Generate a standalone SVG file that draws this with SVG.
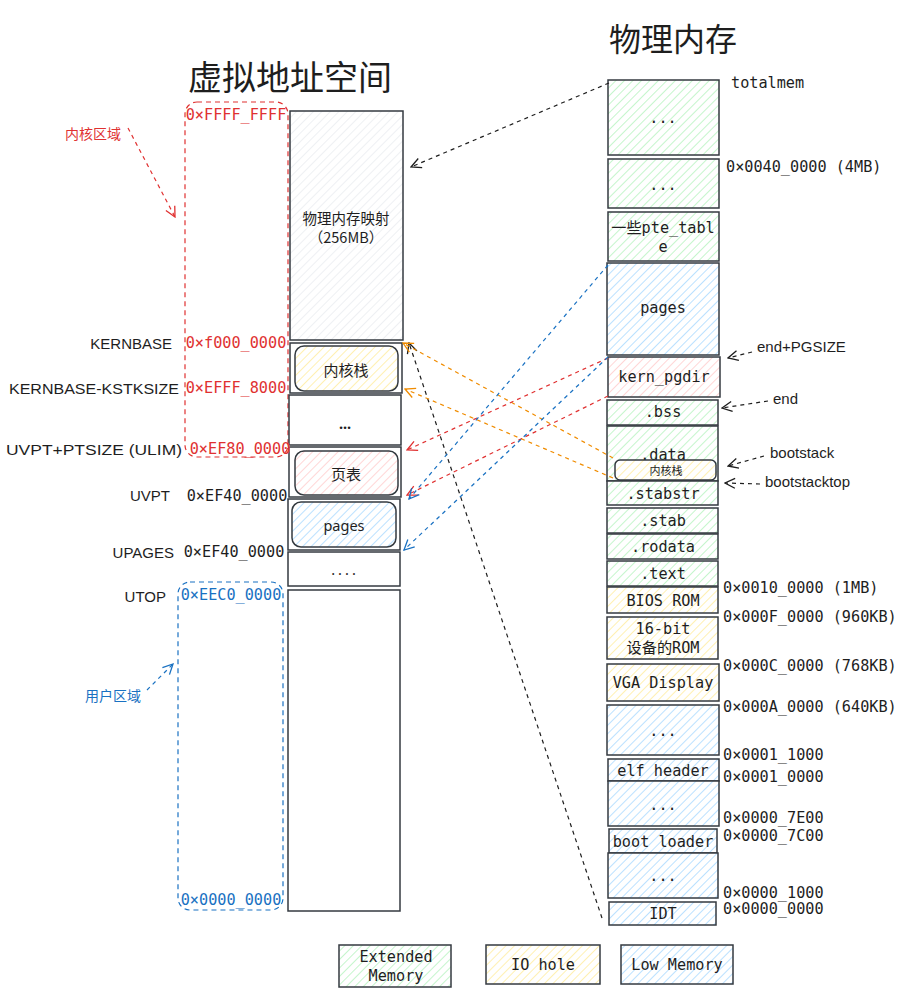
<svg xmlns="http://www.w3.org/2000/svg" width="913" height="1002" viewBox="0 0 913 1002">
<style>
.box{stroke:#343a40;stroke-width:1.5}
.inner{stroke:#343a40;stroke-width:1.5}
.mono{font-family:"DejaVu Sans Mono","Liberation Mono","Noto Sans CJK SC",monospace;font-size:15.2px;fill:#1e1e1e}
.sans{font-family:"Noto Sans","Noto Sans CJK SC",sans-serif;font-size:14.5px;fill:#1e1e1e}
.cjk{font-family:"Noto Sans CJK SC",sans-serif;fill:#1e1e1e}
.hand{font-family:"Liberation Sans","Noto Sans",sans-serif;font-size:15px;fill:#1e1e1e}
.c{text-anchor:middle;dominant-baseline:central}
.l{dominant-baseline:central}
.r{text-anchor:end;dominant-baseline:central}
.red{fill:#e03131}
.blue{fill:#1971c2}
.conn{fill:none;stroke-width:1.2;stroke-dasharray:4 4}
</style>
<defs>
<pattern id="hg" patternUnits="userSpaceOnUse" width="6" height="6" patternTransform="rotate(45)"><rect width="6" height="6" fill="#fff"/><line x1="0" y1="0" x2="0" y2="6" stroke="#b2f2bb" stroke-width="1.5"/></pattern>
<pattern id="hy" patternUnits="userSpaceOnUse" width="6" height="6" patternTransform="rotate(45)"><rect width="6" height="6" fill="#fff"/><line x1="0" y1="0" x2="0" y2="6" stroke="#ffec99" stroke-width="1.5"/></pattern>
<pattern id="hb" patternUnits="userSpaceOnUse" width="6" height="6" patternTransform="rotate(45)"><rect width="6" height="6" fill="#fff"/><line x1="0" y1="0" x2="0" y2="6" stroke="#a5d8ff" stroke-width="1.5"/></pattern>
<pattern id="hr" patternUnits="userSpaceOnUse" width="6" height="6" patternTransform="rotate(45)"><rect width="6" height="6" fill="#fff"/><line x1="0" y1="0" x2="0" y2="6" stroke="#ffc9c9" stroke-width="1.5"/></pattern>
<pattern id="hk" patternUnits="userSpaceOnUse" width="6" height="6" patternTransform="rotate(45)"><rect width="6" height="6" fill="#fff"/><line x1="0" y1="0" x2="0" y2="6" stroke="#e9ecef" stroke-width="1.5"/></pattern>
<marker id="mk" viewBox="0 0 12 12" refX="11" refY="6" markerWidth="12" markerHeight="12" markerUnits="userSpaceOnUse" orient="auto"><path d="M1,1 L11,6 L1,11" fill="none" stroke="#1e1e1e" stroke-width="1.3"/></marker>
<marker id="mr" viewBox="0 0 12 12" refX="11" refY="6" markerWidth="12" markerHeight="12" markerUnits="userSpaceOnUse" orient="auto"><path d="M1,1 L11,6 L1,11" fill="none" stroke="#e03131" stroke-width="1.3"/></marker>
<marker id="mb" viewBox="0 0 12 12" refX="11" refY="6" markerWidth="12" markerHeight="12" markerUnits="userSpaceOnUse" orient="auto"><path d="M1,1 L11,6 L1,11" fill="none" stroke="#1971c2" stroke-width="1.3"/></marker>
<marker id="mo" viewBox="0 0 12 12" refX="11" refY="6" markerWidth="12" markerHeight="12" markerUnits="userSpaceOnUse" orient="auto"><path d="M1,1 L11,6 L1,11" fill="none" stroke="#f08c00" stroke-width="1.3"/></marker>
</defs>
<rect width="913" height="1002" fill="#fff"/>

<!-- titles -->
<g id="title-virtual"><text x="290" y="75" class="cjk c" font-size="34">虚拟地址空间</text></g>
<g id="title-physical"><text x="673" y="37" class="cjk c" font-size="32">物理内存</text></g>

<!-- region outlines -->
<g id="kernel-region">
<rect x="185" y="102" width="103" height="355" rx="12" fill="none" stroke="#e03131" stroke-width="1.2" stroke-dasharray="5 4"/>
<text x="93" y="133" class="cjk c red" font-size="14">内核区域</text>
</g>
<g id="user-region">
<rect x="178" y="582" width="105" height="328" rx="12" fill="none" stroke="#1971c2" stroke-width="1.2" stroke-dasharray="5 4"/>
<text x="113" y="695" class="cjk c blue" font-size="14">用户区域</text>
</g>

<!-- left column -->
<g id="vm-physmap">
<rect x="290" y="111" width="113" height="229" fill="url(#hk)" class="box"/>
<text x="346" y="217" class="cjk c" font-size="14.5" fill="#333">物理内存映射</text>
<text x="346" y="236" class="cjk c" font-size="14.5" fill="#333">（256MB）</text>
</g>
<g id="vm-kstack">
<rect x="290" y="343" width="112" height="50" fill="#fff" class="box"/>
<rect x="295" y="346" width="103" height="45" rx="9" fill="url(#hy)" class="inner"/>
<text x="346" y="369" class="cjk c" font-size="15">内核栈</text>
</g>
<g id="vm-dots1">
<rect x="289" y="395" width="112" height="50" fill="#fff" class="box"/>
<text x="345" y="423" class="sans c" font-weight="bold">...</text>
</g>
<g id="vm-pagetable">
<rect x="289" y="447" width="112" height="50" fill="#fff" class="box"/>
<rect x="295" y="451" width="103" height="44" rx="9" fill="url(#hr)" class="inner"/>
<text x="346" y="473" class="cjk c" font-size="15">页表</text>
</g>
<g id="vm-pages">
<rect x="288" y="499" width="112" height="51" fill="#fff" class="box"/>
<rect x="292" y="502" width="104" height="45" rx="9" fill="url(#hb)" class="inner"/>
<text x="344" y="525" class="sans c" font-size="15">pages</text>
</g>
<g id="vm-dots2">
<rect x="288" y="552" width="112" height="34" fill="#fff" class="box"/>
<text x="345" y="569" class="sans c" letter-spacing="3">....</text>
</g>
<g id="vm-user">
<rect x="288" y="590" width="112" height="321" fill="#fff" class="box"/>
</g>

<!-- left address labels -->
<g id="vm-labels">
<text x="236" y="115" class="mono c red">0×FFFF_FFFF</text>
<text x="172" y="343" class="hand r">KERNBASE</text>
<text x="236" y="343" class="mono c red">0×f000_0000</text>
<text x="179" y="388" class="hand r" textLength="170" lengthAdjust="spacingAndGlyphs">KERNBASE-KSTKSIZE</text>
<text x="236" y="388" class="mono c red">0×EFFF_8000</text>
<text x="182" y="449" class="hand r" textLength="176" lengthAdjust="spacingAndGlyphs">UVPT+PTSIZE (ULIM)</text>
<text x="240" y="449" class="mono c red">0×EF80_0000</text>
<text x="170" y="495" class="hand r">UVPT</text>
<text x="237" y="496" class="mono c">0×EF40_0000</text>
<text x="174" y="552" class="hand r">UPAGES</text>
<text x="234" y="552" class="mono c">0×EF40_0000</text>
<text x="166" y="596" class="hand r">UTOP</text>
<text x="231" y="595" class="mono c blue">0×EEC0_0000</text>
<text x="231" y="900" class="mono c blue">0×0000_0000</text>
</g>

<!-- right column -->
<g id="pm-top"><rect x="608" y="80" width="111" height="75" fill="url(#hg)" class="box"/><text x="663" y="118" class="mono c">...</text></g>
<g id="pm-dots"><rect x="608" y="159" width="111" height="49" fill="url(#hg)" class="box"/><text x="663" y="185" class="mono c">...</text></g>
<g id="pm-pte"><rect x="608" y="212" width="111" height="49" fill="url(#hg)" class="box"/><text x="663" y="228" class="mono c" font-family="DejaVu Sans Mono,Noto Sans CJK SC,monospace" font-size="14.5">一些pte_tabl</text><text x="663" y="247" class="mono c">e</text></g>
<g id="pm-pages"><rect x="607" y="263" width="112" height="92" fill="url(#hb)" class="box"/><text x="663" y="308" class="mono c">pages</text></g>
<g id="pm-pgdir"><rect x="608" y="357" width="112" height="40" fill="url(#hr)" class="box"/><text x="664" y="377" class="mono c">kern_pgdir</text></g>
<g id="pm-bss"><rect x="607" y="400" width="111" height="25" fill="url(#hg)" class="box"/><text x="663" y="412" class="mono c">.bss</text></g>
<g id="pm-data"><rect x="607" y="426" width="111" height="55" fill="url(#hg)" class="box"/><text x="663" y="455" class="mono c">.data</text>
<rect x="615" y="460" width="101" height="20" rx="5" fill="url(#hy)" class="inner"/><text x="666" y="470" class="cjk c" font-size="11">内核栈</text></g>
<g id="pm-stabstr"><rect x="607" y="481" width="111" height="24" fill="url(#hg)" class="box"/><text x="663" y="494" class="mono c">.stabstr</text></g>
<g id="pm-stab"><rect x="607" y="508" width="111" height="25" fill="url(#hg)" class="box"/><text x="663" y="521" class="mono c">.stab</text></g>
<g id="pm-rodata"><rect x="607" y="534" width="111" height="25" fill="url(#hg)" class="box"/><text x="663" y="547" class="mono c">.rodata</text></g>
<g id="pm-text"><rect x="607" y="561" width="111" height="25" fill="url(#hg)" class="box"/><text x="663" y="574" class="mono c">.text</text></g>
<g id="pm-bios"><rect x="607" y="587" width="111" height="26" fill="url(#hy)" class="box"/><text x="663" y="601" class="mono c">BIOS ROM</text></g>
<g id="pm-16bit"><rect x="607" y="617" width="111" height="42" fill="url(#hy)" class="box"/><text x="663" y="629" class="mono c">16-bit</text><text x="663" y="648" class="mono c" font-family="DejaVu Sans Mono,Noto Sans CJK SC,monospace">设备的ROM</text></g>
<g id="pm-vga"><rect x="607" y="664" width="112" height="37" fill="url(#hy)" class="box"/><text x="663" y="683" class="mono c">VGA Display</text></g>
<g id="pm-low1"><rect x="607" y="705" width="112" height="50" fill="url(#hb)" class="box"/><text x="663" y="731" class="mono c">...</text></g>
<g id="pm-elf"><rect x="608" y="759" width="111" height="22" fill="url(#hb)" class="box"/><text x="663" y="771" class="mono c">elf header</text></g>
<g id="pm-low2"><rect x="608" y="781" width="111" height="45" fill="url(#hb)" class="box"/><text x="663" y="805" class="mono c">...</text></g>
<g id="pm-boot"><rect x="609" y="829" width="108" height="24" fill="url(#hb)" class="box"/><text x="663" y="842" class="mono c">boot loader</text></g>
<g id="pm-low3"><rect x="608" y="853" width="110" height="45" fill="url(#hb)" class="box"/><text x="663" y="876" class="mono c">...</text></g>
<g id="pm-idt"><rect x="609" y="902" width="107" height="23" fill="url(#hb)" class="box"/><text x="663" y="914" class="mono c">IDT</text></g>

<!-- right address labels -->
<g id="pm-labels">
<text x="731" y="83" class="mono l">totalmem</text>
<text x="726" y="167" class="mono l">0×0040_0000 (4MB)</text>
<text x="757" y="346" class="hand l">end+PGSIZE</text>
<text x="773" y="398" class="hand l">end</text>
<text x="770" y="452" class="hand l">bootstack</text>
<text x="765" y="481" class="hand l">bootstacktop</text>
<text x="723" y="588" class="mono l">0×0010_0000 (1MB)</text>
<text x="723" y="617" class="mono l">0×000F_0000 (960KB)</text>
<text x="723" y="666" class="mono l">0×000C_0000 (768KB)</text>
<text x="723" y="707" class="mono l">0×000A_0000 (640KB)</text>
<text x="723" y="755" class="mono l">0×0001_1000</text>
<text x="723" y="777" class="mono l">0×0001_0000</text>
<text x="723" y="818" class="mono l">0×0000_7E00</text>
<text x="723" y="836" class="mono l">0×0000_7C00</text>
<text x="723" y="893" class="mono l">0×0000_1000</text>
<text x="723" y="909" class="mono l">0×0000_0000</text>
</g>

<!-- connectors -->
<g id="connectors">
<path d="M609,83 L411,167" class="conn" stroke="#1e1e1e" marker-end="url(#mk)"/>
<path d="M602,918 L409,343" class="conn" stroke="#1e1e1e" marker-end="url(#mk)"/>
<path d="M613,458 L403,343" class="conn" stroke="#f08c00" marker-end="url(#mo)"/>
<path d="M613,478 L405,389" class="conn" stroke="#f08c00" marker-end="url(#mo)"/>
<path d="M608,358 L407,450" class="conn" stroke="#e03131" marker-end="url(#mr)"/>
<path d="M608,396 L407,495" class="conn" stroke="#e03131" marker-end="url(#mr)"/>
<path d="M608,265 L409,499" class="conn" stroke="#1971c2" marker-end="url(#mb)"/>
<path d="M608,357 L404,550" class="conn" stroke="#1971c2" marker-end="url(#mb)"/>
<path d="M128,128 L175,217" class="conn" stroke="#e03131" marker-end="url(#mr)"/>
<path d="M147,690 L173,664" class="conn" stroke="#1971c2" marker-end="url(#mb)"/>
<path d="M752,352 L728,358" class="conn" stroke="#1e1e1e" marker-end="url(#mk)"/>
<path d="M768,401 L722,408" class="conn" stroke="#1e1e1e" marker-end="url(#mk)"/>
<path d="M764,456 L728,466" class="conn" stroke="#1e1e1e" marker-end="url(#mk)"/>
<path d="M760,484 L725,483" class="conn" stroke="#1e1e1e" marker-end="url(#mk)"/>
</g>

<!-- legend -->
<g id="legend-extended"><rect x="339" y="945" width="112" height="42" fill="url(#hg)" class="box"/><text x="396" y="957" class="mono c">Extended</text><text x="396" y="976" class="mono c">Memory</text></g>
<g id="legend-io"><rect x="486" y="945" width="114" height="39" fill="url(#hy)" class="box"/><text x="543" y="965" class="mono c">IO hole</text></g>
<g id="legend-low"><rect x="621" y="945" width="112" height="39" fill="url(#hb)" class="box"/><text x="677" y="965" class="mono c">Low Memory</text></g>
</svg>
